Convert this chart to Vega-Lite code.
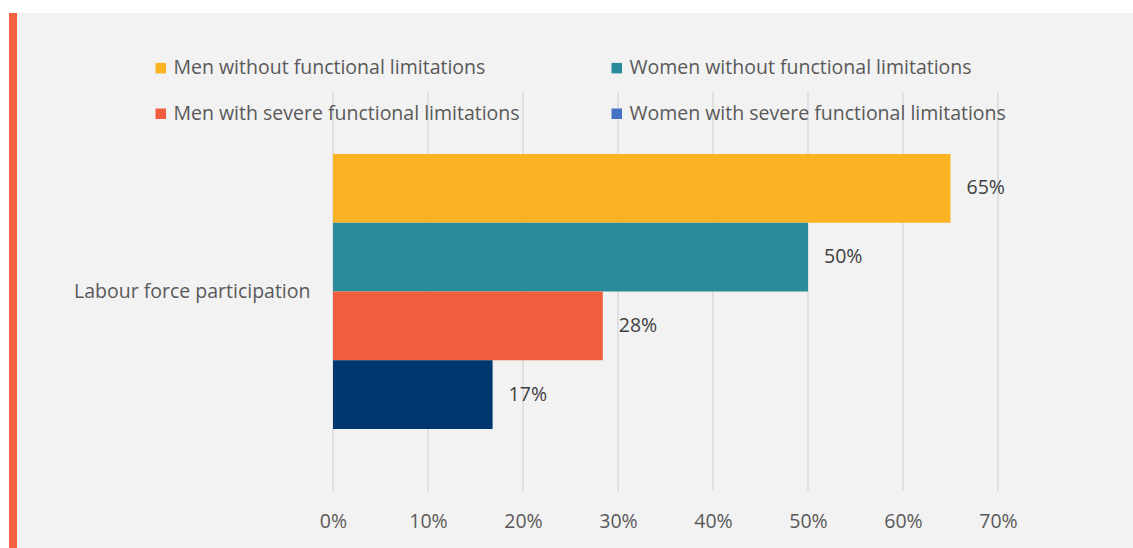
{
  "$schema": "https://vega.github.io/schema/vega-lite/v6.json",
  "autosize": {"type": "none"},
  "width": 1124,
  "height": 535,
  "padding": {"left": 9, "top": 13, "right": 0, "bottom": 0},
  "background": "#ffffff",
  "config": {
    "view": {"fill": "#f2f2f2", "stroke": null},
    "font": "Open Sans"
  },
  "datasets": {
    "bars": [
      {"cat": "Labour force participation", "series": "Men without functional limitations", "value": 65, "label": "65%"},
      {"cat": "Labour force participation", "series": "Women without functional limitations", "value": 50, "label": "50%"},
      {"cat": "Labour force participation", "series": "Men with severe functional limitations", "value": 28.4, "label": "28%"},
      {"cat": "Labour force participation", "series": "Women with severe functional limitations", "value": 16.8, "label": "17%"}
    ],
    "legendEntries": [
      {"entry": "Men without functional limitations"},
      {"entry": "Women without functional limitations"},
      {"entry": "Men with severe functional limitations"},
      {"entry": "Women with severe functional limitations"}
    ],
    "grid": [
      {"cat": "Labour force participation", "tick": 0},
      {"cat": "Labour force participation", "tick": 10},
      {"cat": "Labour force participation", "tick": 20},
      {"cat": "Labour force participation", "tick": 30},
      {"cat": "Labour force participation", "tick": 40},
      {"cat": "Labour force participation", "tick": 50},
      {"cat": "Labour force participation", "tick": 60},
      {"cat": "Labour force participation", "tick": 70}
    ]
  },
  "layer": [
    {
      "data": {"values": [{}]},
      "mark": {"type": "rect", "color": "#f26140"},
      "encoding": {
        "x": {"datum": -34.105, "type": "quantitative", "scale": {"domain": [-34.105, 84.211], "nice": false, "zero": false}},
        "x2": {"datum": -33.263}
      }
    },
    {
      "data": {"name": "grid"},
      "mark": {"type": "tick", "color": "#d9d9d9", "thickness": 2, "size": 399, "orient": "vertical"},
      "encoding": {
        "x": {"field": "tick", "type": "quantitative"},
        "y": {"field": "cat", "type": "nominal"}
      }
    },
    {
      "data": {"name": "legendEntries"},
      "mark": {"type": "bar"},
      "encoding": {
        "x": {"datum": 0, "type": "quantitative"},
        "color": {
          "field": "entry", "type": "nominal",
          "scale": {
            "domain": ["Men without functional limitations", "Women without functional limitations", "Men with severe functional limitations", "Women with severe functional limitations"],
            "range": ["#fbb323", "#2a8b9b", "#f15e3d", "#4472c4"]
          },
          "legend": {
            "orient": "none", "legendX": 142, "legendY": 45, "columns": 2, "direction": "horizontal",
            "title": null, "symbolType": "square", "symbolSize": 110, "symbolStrokeWidth": 0,
            "labelFontSize": 19.5, "labelColor": "#595959", "labelLimit": 500, "labelOffset": 3,
            "columnPadding": 87, "rowPadding": 25, "padding": 0
          }
        }
      }
    },
    {
      "data": {"name": "bars"},
      "mark": {"type": "bar"},
      "encoding": {
        "x": {
          "field": "value", "type": "quantitative",
          "axis": {
            "orient": "bottom", "offset": -38, "values": [0, 10, 20, 30, 40, 50, 60, 70],
            "labelExpr": "datum.value + '%'", "domain": false, "ticks": false, "grid": false,
            "labelFontSize": 19.5, "labelColor": "#595959", "labelPadding": 2, "title": null
          }
        },
        "y": {
          "field": "cat", "type": "nominal",
          "scale": {"range": [79, 478], "paddingInner": 0, "paddingOuter": 0},
          "axis": {
            "orient": "left", "offset": -324, "domain": false, "ticks": false, "grid": false,
            "labelFontSize": 19.5, "labelColor": "#595959", "labelPadding": 23, "labelLimit": 400, "title": null
          }
        },
        "yOffset": {
          "field": "series", "type": "nominal",
          "sort": ["Men without functional limitations", "Women without functional limitations", "Men with severe functional limitations", "Women with severe functional limitations"],
          "scale": {"paddingInner": 0, "paddingOuter": 0.902}
        },
        "fill": {
          "field": "series", "type": "nominal", "legend": null,
          "scale": {
            "domain": ["Men without functional limitations", "Women without functional limitations", "Men with severe functional limitations", "Women with severe functional limitations"],
            "range": ["#fbb323", "#2a8b9b", "#f15e3d", "#00376f"]
          }
        }
      }
    },
    {
      "data": {"name": "bars"},
      "mark": {"type": "text", "align": "left", "baseline": "middle", "dx": 16, "fontSize": 19.5, "color": "#404040"},
      "encoding": {
        "x": {"field": "value", "type": "quantitative"},
        "y": {"field": "cat", "type": "nominal"},
        "yOffset": {"field": "series", "type": "nominal", "sort": ["Men without functional limitations", "Women without functional limitations", "Men with severe functional limitations", "Women with severe functional limitations"]},
        "text": {"field": "label"}
      }
    }
  ]
}
